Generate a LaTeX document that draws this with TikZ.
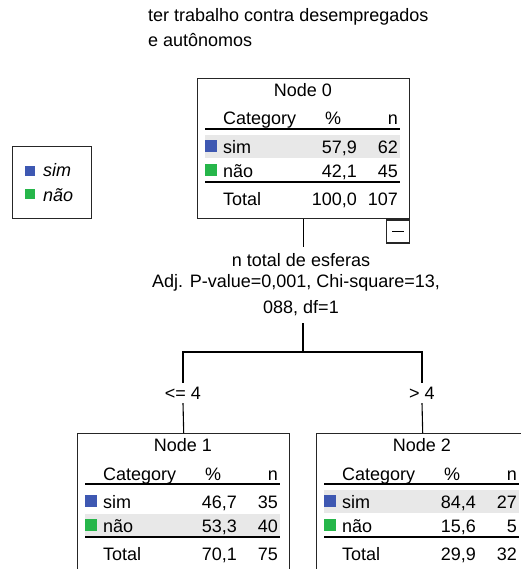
\documentclass[tikz,border=0pt]{standalone}
\usepackage{fontspec}
\setmainfont{Liberation Sans}

\definecolor{simblue}{RGB}{62,88,178}
\definecolor{naogreen}{RGB}{38,182,74}
\definecolor{bandgray}{RGB}{232,232,232}

\newcommand{\treefont}{\fontsize{18}{22}\selectfont}

\tikzset{
  treebox/.style={draw=black!85, line width=1.4pt, anchor=north west, minimum width=212, minimum height=140, inner sep=0pt},
  tablerule/.style={line width=1.5pt},
  treeline/.style={line width=1.1pt},
  swatch/.style={inner sep=0pt, minimum size=12, anchor=north west},
  cell/.style={inner sep=0pt},
  splitlabel/.style={inner xsep=0pt, inner ysep=6pt, text height=13pt, text depth=4pt, anchor=base},
  branchlabel/.style={inner xsep=0pt, inner ysep=4pt, text height=12pt, text depth=0pt, anchor=base}
}

% one tree node: number, top left corner, top of shaded row, then % and n per row
\newcommand{\treenode}[9]{%
\begin{scope}[shift={#2}]
  \fill[bandgray] (8,#3) rectangle (203,#3+23);
  \node[treebox] (node#1) at (0,0) {};
  \node[cell, anchor=base] (node#1-title) at (106,18.5) {Node #1};
  \node[cell, anchor=base west] (node#1-cat) at (26,47) {Category};
  \node[cell, anchor=base] (node#1-pct) at (136,47) {\%};
  \node[cell, anchor=base east] (node#1-n) at (201,47) {n};
  \draw[tablerule] (8,51) -- (203,51);
  \node[swatch, fill=simblue] (node#1-simkey) at (8,62) {};
  \node[cell, anchor=base west] (node#1-sim) at (26,75.5) {sim};
  \node[cell, anchor=base east] (node#1-simpct) at (160,75.5) {#4};
  \node[cell, anchor=base east] (node#1-simn) at (201,75.5) {#5};
  \node[swatch, fill=naogreen] (node#1-naokey) at (8,86) {};
  \node[cell, anchor=base west] (node#1-nao) at (26,99.5) {não};
  \node[cell, anchor=base east] (node#1-naopct) at (160,99.5) {#6};
  \node[cell, anchor=base east] (node#1-naon) at (201,99.5) {#7};
  \draw[tablerule] (8,104) -- (203,104);
  \node[cell, anchor=base west] (node#1-total) at (26,127.5) {Total};
  \node[cell, anchor=base east] (node#1-totalpct) at (160,127.5) {#8};
  \node[cell, anchor=base east] (node#1-totaln) at (201,127.5) {#9};
\end{scope}}

\begin{document}
\begin{tikzpicture}[x=1pt, y=-1pt, every node/.style={font=\treefont}]
\useasboundingbox (0,0) rectangle (520,569);

% dependent variable
\node[cell, anchor=base west] (title-a) at (148,21.5) {ter trabalho contra desempregados};
\node[cell, anchor=base west] (title-b) at (148,46.5) {e autônomos};

% legend
\node[draw=black!85, line width=1.4pt, anchor=north west, minimum width=79, minimum height=72] (legend) at (12,146) {};
\node[swatch, minimum size=10, fill=simblue] (legend-simkey) at (25,166) {};
\node[cell, anchor=base west, font=\treefont\itshape] (legend-sim) at (43,177) {sim};
\node[swatch, minimum size=10, fill=naogreen] (legend-naokey) at (25,189) {};
\node[cell, anchor=base west, font=\treefont\itshape] (legend-nao) at (43,201) {não};

\treenode{0}{(197,78)}{57}{57,9}{62}{42,1}{45}{100,0}{107}
\treenode{1}{(77,433)}{81}{46,7}{35}{53,3}{40}{70,1}{75}
\treenode{2}{(316,433)}{57}{84,4}{27}{15,6}{5}{29,9}{32}

% collapse toggle under node 0
\node[draw=black!85, line width=1.2pt, minimum size=23, inner sep=0pt, anchor=north east] (node0-toggle) at (node0.south east) {\rule{12pt}{1.4pt}};

% split
\node[splitlabel] (split-a) at (301,266) {n total de esferas};
\node[splitlabel] (split-b) at (296,287) {Adj. P-value=0,001, Chi-square=13,};
\node[splitlabel] (split-c) at (301,313) {088, df=1};
\coordinate (fork) at (303,352);

\node[branchlabel] (cut-l) at (183,399) {<= 4};
\node[branchlabel] (cut-r) at (422,399) {> 4};

\draw[treeline] (node0.south) -- (node0.south |- split-a.north);
\draw[treeline] (fork |- split-c.south) -- (fork);
\draw[treeline] (cut-l.north) |- (fork) -| (cut-r.north);
\draw[treeline] (cut-l.south) -- (node1.north);
\draw[treeline] (cut-r.south) -- (node2.north);
\end{tikzpicture}
\end{document}
